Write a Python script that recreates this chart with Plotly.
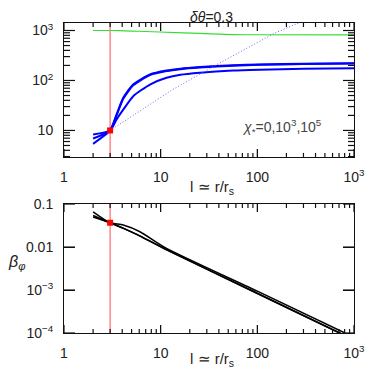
import plotly.graph_objects as go

# radius grid (l ~ r/r_s) and sonic point
l_star = 3.0
l_top = [2, 3, 3.5, 4.1, 5.2, 7.75, 11.5, 16, 25.5, 56, 106, 300, 1000]

# Lorentz factor curves for chi_* = 0, 1e3, 1e5
gam_chi0 = [8.3, 10, 16.6, 26, 48.5, 83, 113, 130, 143, 158, 164, 171, 176]
gam_chi3 = [6.9, 10, 20, 43, 80, 128, 154, 168, 181, 198, 206, 213, 218]
gam_chi5 = [5.4, 10, 20.9, 45, 83, 132, 158, 172, 185, 202, 209, 216, 222]
gam_star = 10

# dotted reference and green curve
l_dot = [3, 13, 35, 150, 300]
gam_dot = [10, 64, 190, 880, 1560]
l_green = [2, 3, 3.8, 6, 9.8, 25.5, 56, 100, 1000]
gam_green = [1000, 1000, 995, 965, 933, 875, 830, 822, 820]

# beta_phi curves
l_bot = [2, 3, 4.1, 6.1, 11.5, 100, 805]
beta_a = [0.066, 0.0367, 0.0325, 0.0227, 0.0093, 9.4e-4, 1e-4]
beta_b = [0.054, 0.0367, 0.0272, 0.018, 0.00857, 8.3e-4, 8.7e-5]
beta_c = [0.050, 0.0367, 0.0275, 0.0182, 0.0087, 8.4e-4, 8.8e-5]
beta_star = 0.0367

# tick positions and labels
x_major = [1, 10, 100, 1000]
x_major_txt = ["1", "10", "100", "10<sup>3</sup>"]
y1_major = [10, 100, 1000]
y1_major_txt = ["10", "10<sup>2</sup>", "10<sup>3</sup>"]
y2_major = [1e-4, 1e-3, 0.01, 0.1]
y2_major_txt = ["10<sup>−4</sup>", "10<sup>−3</sup>", "0.01", "0.1"]
x_minor = [m * 10 ** k for k in range(3) for m in range(2, 10)]
y1_range = [0.47, 3.15]
y1_minor = [m * 10 ** k for k in range(0, 4) for m in range(2, 10)
            if 10 ** y1_range[0] < m * 10 ** k < 10 ** y1_range[1]]

font = "Liberation Sans"
txt = "#222"
axc = "#111"

fig = go.Figure()

for g in [gam_chi0, gam_chi3, gam_chi5]:
    fig.add_trace(go.Scatter(x=l_top, y=g, mode="lines",
                             line=dict(color="#0000ff", width=2, shape="spline", smoothing=0.6),
                             xaxis="x", yaxis="y"))
fig.add_trace(go.Scatter(x=l_dot, y=gam_dot, mode="lines", line=dict(color="#6a6aff", width=1, dash="1px,2px"),
                         xaxis="x", yaxis="y"))
fig.add_trace(go.Scatter(x=l_green, y=gam_green, mode="lines", line=dict(color="#33dd33", width=1.2, shape="spline"),
                         xaxis="x", yaxis="y"))
fig.add_trace(go.Scatter(x=[l_star], y=[gam_star], mode="markers", marker=dict(color="red", size=6, symbol="square"),
                         xaxis="x", yaxis="y"))

for b in [beta_a, beta_b, beta_c]:
    fig.add_trace(go.Scatter(x=l_bot, y=b, mode="lines",
                             line=dict(color="black", width=1.5, shape="spline", smoothing=0.6),
                             xaxis="x2", yaxis="y2"))
fig.add_trace(go.Scatter(x=[l_star], y=[beta_star], mode="markers", marker=dict(color="red", size=6, symbol="square"),
                         xaxis="x2", yaxis="y2"))

# sonic point line in both panels
for xr, yr in [("x", "y domain"), ("x2", "y2 domain")]:
    fig.add_shape(type="line", xref=xr, yref=yr, x0=l_star, x1=l_star, y0=0, y1=1,
                  line=dict(color="#ff6a6a", width=1.2), layer="below")

# inward ticks on all four sides, drawn as pixel-sized shapes
tick_line = dict(color=axc, width=1.2)


def xticks(xr, yr, vals, n):
    for v in vals:
        for anc, s in [(0, 1), (1, -1)]:
            fig.add_shape(type="line", xref=xr, yref=yr + " domain", x0=v, x1=v, ysizemode="pixel",
                          yanchor=anc, y0=0, y1=s * n, line=tick_line)


def yticks(xr, yr, vals, n):
    for v in vals:
        for anc, s in [(0, 1), (1, -1)]:
            fig.add_shape(type="line", xref=xr + " domain", yref=yr, y0=v, y1=v, xsizemode="pixel",
                          xanchor=anc, x0=0, x1=s * n, line=tick_line)


for xr, yr in [("x", "y"), ("x2", "y2")]:
    xticks(xr, yr, x_major, 8)
    xticks(xr, yr, x_minor, 4)
yticks("x", "y", y1_major, 11)
yticks("x", "y", y1_minor, 6)
yticks("x2", "y2", y2_major, 11)

# major ticks also on the axes themselves
xcommon = dict(type="log", range=[0, 3], tickmode="array", tickvals=x_major, ticktext=x_major_txt,
               ticks="inside", ticklen=8, tickcolor=axc, showline=True, linecolor=axc, linewidth=1,
               mirror="ticks", showgrid=False, zeroline=False, ticklabelstandoff=7, automargin=False)

# the page body has an 8px margin, so the figure is 8px smaller and shifted
fig.update_layout(
    width=366, height=366, plot_bgcolor="white", paper_bgcolor="white", showlegend=False,
    margin=dict(l=56, r=20, t=15, b=41),
    font=dict(family=font, size=14, color=txt),
    xaxis=dict(xcommon, domain=[0, 1], anchor="y"),
    xaxis2=dict(xcommon, domain=[0, 1], anchor="y2"),
    yaxis=dict(type="log", range=y1_range, domain=[0.568, 1], anchor="x",
               tickmode="array", tickvals=y1_major, ticktext=y1_major_txt,
               ticks="inside", ticklen=11, tickcolor=axc, showline=True, linecolor=axc, linewidth=1,
               mirror="ticks", showgrid=False, zeroline=False, ticklabelstandoff=7, automargin=False),
    yaxis2=dict(type="log", range=[-4, -1], domain=[0, 0.416], anchor="x2",
                tickmode="array", tickvals=y2_major, ticktext=y2_major_txt,
                ticks="inside", ticklen=11, tickcolor=axc, showline=True, linecolor=axc, linewidth=1,
                mirror="ticks", showgrid=False, zeroline=False, ticklabelstandoff=7, automargin=False),
)

ann = dict(xref="paper", yref="paper", showarrow=False, xanchor="center", yanchor="middle")
fig.add_annotation(ann, text="<i>δθ</i>=0.3", x=0.51, y=1.048, yanchor="top", borderpad=0,
                   font=dict(size=14))
fig.add_annotation(ann, text="l ≃ r/r<sub>s</sub>", x=0.51, y=0.468, font=dict(size=15))
fig.add_annotation(ann, text="l ≃ r/r<sub>s</sub>", x=0.51, y=-0.087, font=dict(size=15))
fig.add_annotation(ann, text="<i>β</i><sub><i>φ</i></sub>", x=-0.165, y=0.229, font=dict(size=16))
fig.add_annotation(ann, text="<i>χ</i><sub>*</sub>=0,10<sup>3</sup>,10<sup>5</sup>", x=0.75, y=0.665,
                   font=dict(size=14, color="#444"))

fig.write_html("out.html")
